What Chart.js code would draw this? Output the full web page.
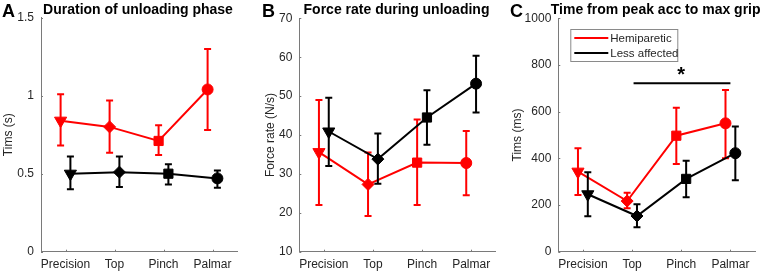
<!DOCTYPE html>
<html><head><meta charset="utf-8">
<script src="https://cdn.jsdelivr.net/npm/chart.js@4"></script>
<style>
html,body{margin:0;padding:0;background:#fff;width:765px;height:274px;overflow:hidden;}
.p{position:absolute;top:0;width:255px;height:274px;}
canvas{display:block;}
</style></head><body>
<div class="p" style="left:0px"><canvas id="cA" width="255" height="274"></canvas></div>
<div class="p" style="left:255px"><canvas id="cB" width="255" height="274"></canvas></div>
<div class="p" style="left:510px"><canvas id="cC" width="255" height="274"></canvas></div>
<script>
// ---------- data ----------
const categories = ['Precision', 'Top', 'Pinch', 'Palmar'];
const seriesNames = ['Hemiparetic', 'Less affected'];

// Panel A: Duration of unloading phase (s)
const aHemi   = [0.84, 0.80, 0.71, 1.04];
const aHemiLo = [0.68, 0.635, 0.62, 0.78];
const aHemiHi = [1.01, 0.97, 0.81, 1.30];
const aLess   = [0.50, 0.51, 0.50, 0.47];
const aLessLo = [0.40, 0.415, 0.43, 0.41];
const aLessHi = [0.61, 0.61, 0.56, 0.52];
const aTicks  = [0, 0.5, 1, 1.5];

// Panel B: Force rate during unloading (N/s)
const bHemi   = [35.6, 27.3, 32.9, 32.8];
const bHemiLo = [22.0, 19.2, 22.0, 24.5];
const bHemiHi = [49.0, 35.5, 44.0, 41.0];
const bLess   = [40.9, 33.8, 44.5, 53.2];
const bLessLo = [32.0, 27.5, 37.5, 45.8];
const bLessHi = [49.6, 40.4, 51.5, 60.4];
const bTicks  = [10, 20, 30, 40, 50, 60, 70];

// Panel C: Time from peak acc to max grip (ms)
const cHemi   = [343, 217, 497, 550];
const cHemiLo = [243, 186, 376, 400];
const cHemiHi = [443, 253, 617, 693];
const cLess   = [246, 153, 312, 422];
const cLessLo = [152, 105, 233, 306];
const cLessHi = [340, 203, 390, 536];
const cTicks  = [0, 200, 400, 600, 800, 1000];
const cSignif = [2, 4, 722];   // from category, to category, level

// ---------- styling ----------
const RED = '#ff0000', BLACK = '#000000', AXIS = '#7a7a7a', TXT = '#262626';
const FONT = '"Liberation Sans", Arial, sans-serif';
const markerStyles = ['triangle', 'rectRot', 'rect', 'circle'];
const markerRot = [180, 0, 0, 0];
const markerRad = [7, 6, 6.5, 5.5];

function mkData(vals, off) { return vals.map((v, i) => ({x: i + 1 + off, y: v})); }

function mkDataset(label, vals, lo, hi, color, off, order) {
  return {
    label, data: mkData(vals, off), errLo: lo, errHi: hi,
    borderColor: color, backgroundColor: color, borderWidth: 2,
    pointStyle: markerStyles, rotation: markerRot, pointRadius: markerRad,
    pointBorderWidth: 1, pointBorderColor: color, pointBackgroundColor: color,
    tension: 0, order, clip: false
  };
}

const errPlugin = {
  id: 'errbars',
  beforeDatasetDraw(chart, args) {
    const ds = chart.data.datasets[args.index];
    if (!ds.errLo) return;
    const {ctx} = chart, x = chart.scales.x, y = chart.scales.y;
    ctx.save();
    ctx.strokeStyle = ds.borderColor; ctx.lineWidth = 2;
    ds.data.forEach((p, i) => {
      const px = x.getPixelForValue(p.x);
      const lo = y.getPixelForValue(ds.errLo[i]), hi = y.getPixelForValue(ds.errHi[i]);
      ctx.beginPath();
      ctx.moveTo(px, lo); ctx.lineTo(px, hi);
      ctx.moveTo(px - 3.5, lo); ctx.lineTo(px + 3.5, lo);
      ctx.moveTo(px - 3.5, hi); ctx.lineTo(px + 3.5, hi);
      ctx.stroke();
    });
    ctx.restore();
  }
};

const decoPlugin = {
  id: 'deco',
  afterDraw(chart, args, opts) {
    const {ctx, chartArea: ca} = chart;
    const x = chart.scales.x, y = chart.scales.y;
    ctx.save();
    // inward tick marks
    ctx.strokeStyle = AXIS; ctx.lineWidth = 1;
    x.ticks.forEach(t => {
      const px = Math.round(x.getPixelForValue(t.value)) + 0.5;
      ctx.beginPath(); ctx.moveTo(px, ca.bottom); ctx.lineTo(px, ca.bottom - 2); ctx.stroke();
    });
    y.ticks.forEach(t => {
      const py = Math.round(y.getPixelForValue(t.value)) + 0.5;
      ctx.beginPath(); ctx.moveTo(ca.left, py); ctx.lineTo(ca.left + 2, py); ctx.stroke();
    });
    // panel letter
    ctx.fillStyle = '#000';
    ctx.textBaseline = 'middle';
    ctx.textAlign = 'left';
    ctx.font = 'bold 18px ' + FONT;
    ctx.fillText(opts.letter, opts.letterX, 12);
    // title
    ctx.textAlign = 'center';
    ctx.font = 'bold 14px ' + FONT;
    ctx.fillText(opts.title, (ca.left + ca.right) / 2 - 1, 10);
    // legend
    if (opts.legend) {
      const bx = ca.left + 12, by = 29, bw = 107, bh = 32;
      ctx.fillStyle = '#fff'; ctx.fillRect(bx, by, bw, bh);
      ctx.strokeStyle = '#8a8a8a'; ctx.lineWidth = 1;
      ctx.strokeRect(bx + 0.5, by + 0.5, bw, bh);
      ctx.font = '11.5px ' + FONT; ctx.textAlign = 'left';
      chart.data.datasets.forEach((ds, i) => {
        const ly = by + 9 + i * 15;
        ctx.strokeStyle = ds.borderColor; ctx.lineWidth = 2;
        ctx.beginPath(); ctx.moveTo(bx + 4, ly); ctx.lineTo(bx + 38, ly); ctx.stroke();
        ctx.fillStyle = TXT; ctx.fillText(ds.label, bx + 40, ly + 1);
      });
    }
    // significance bar
    if (opts.signif) {
      const [f, t, lvl] = opts.signif;
      const py = y.getPixelForValue(lvl);
      ctx.strokeStyle = '#000'; ctx.lineWidth = 2;
      ctx.beginPath(); ctx.moveTo(x.getPixelForValue(f) + 1.5, py); ctx.lineTo(x.getPixelForValue(t), py); ctx.stroke();
      ctx.fillStyle = '#000'; ctx.textAlign = 'center'; ctx.font = 'bold 20px ' + FONT;
      ctx.fillText('*', (x.getPixelForValue(f) + x.getPixelForValue(t)) / 2, py - 8);
    }
    ctx.restore();
  }
};

function makeChart(id, cfg) {
  const datasets = [
    mkDataset(seriesNames[0], cfg.hemi, cfg.hemiLo, cfg.hemiHi, RED, -0.1, 1),
    mkDataset(seriesNames[1], cfg.less, cfg.lessLo, cfg.lessHi, BLACK, 0.1, 0)
  ];
  return new Chart(document.getElementById(id), {
    type: 'line',
    data: {datasets},
    plugins: [errPlugin, decoPlugin],
    options: {
      responsive: false, animation: false, devicePixelRatio: 1,
      layout: {padding: {left: 0, top: cfg.top, right: cfg.padRight, bottom: 0}},
      plugins: {
        legend: {display: false}, tooltip: {enabled: false},
        deco: {letter: cfg.letter, letterX: cfg.letterX, title: cfg.title, legend: cfg.legend, signif: cfg.signif}
      },
      scales: {
        x: {
          type: 'linear', min: 0.5, max: 4.5,
          afterBuildTicks: s => { s.ticks = categories.map((c, i) => ({value: i + 1})); },
          afterFit: s => { s.height = 274 - 251.7; },
          ticks: {callback: v => categories[v - 1] || '', color: TXT, font: {family: FONT, size: 12}, padding: 6, maxRotation: 0, autoSkip: false},
          grid: {display: false, drawTicks: false},
          border: {display: true, color: AXIS, width: 1}
        },
        y: {
          type: 'linear', min: cfg.ticks[0], max: cfg.ticks[cfg.ticks.length - 1],
          afterBuildTicks: s => { s.ticks = cfg.ticks.map(v => ({value: v})); },
          afterFit: s => { s.width = cfg.axisLeft; },
          ticks: {color: TXT, font: {family: FONT, size: 12}, padding: 7, callback: v => String(v)},
          grid: {display: false, drawTicks: false},
          border: {display: true, color: AXIS, width: 1},
          title: {display: true, text: cfg.ylabel, color: TXT, font: {family: FONT, size: 12, lineHeight: 1.2}, padding: {top: cfg.ytitlePad, bottom: 0}}
        }
      }
    }
  });
}

makeChart('cA', {hemi: aHemi, hemiLo: aHemiLo, hemiHi: aHemiHi, less: aLess, lessLo: aLessLo, lessHi: aLessHi,
  ticks: aTicks, ylabel: 'Tims (s)', title: 'Duration of unloading phase', letter: 'A', letterX: 2,
  axisLeft: 41, padRight: 18, top: 17.7, ytitlePad: 1.3});
makeChart('cB', {hemi: bHemi, hemiLo: bHemiLo, hemiHi: bHemiHi, less: bLess, lessLo: bLessLo, lessHi: bLessHi,
  ticks: bTicks, ylabel: 'Force rate (N/s)', title: 'Force rate during unloading', letter: 'B', letterX: 7,
  axisLeft: 44.3, padRight: 14.3, top: 18.3, ytitlePad: 8.6});
makeChart('cC', {hemi: cHemi, hemiLo: cHemiLo, hemiHi: cHemiHi, less: cLess, lessLo: cLessLo, lessHi: cLessHi,
  ticks: cTicks, ylabel: 'Tims (ms)', title: 'Time from peak acc to max grip', letter: 'C', letterX: 0,
  axisLeft: 48.3, padRight: 10, top: 18.3, ytitlePad: 0, legend: true, signif: cSignif});
</script>
</body></html>
